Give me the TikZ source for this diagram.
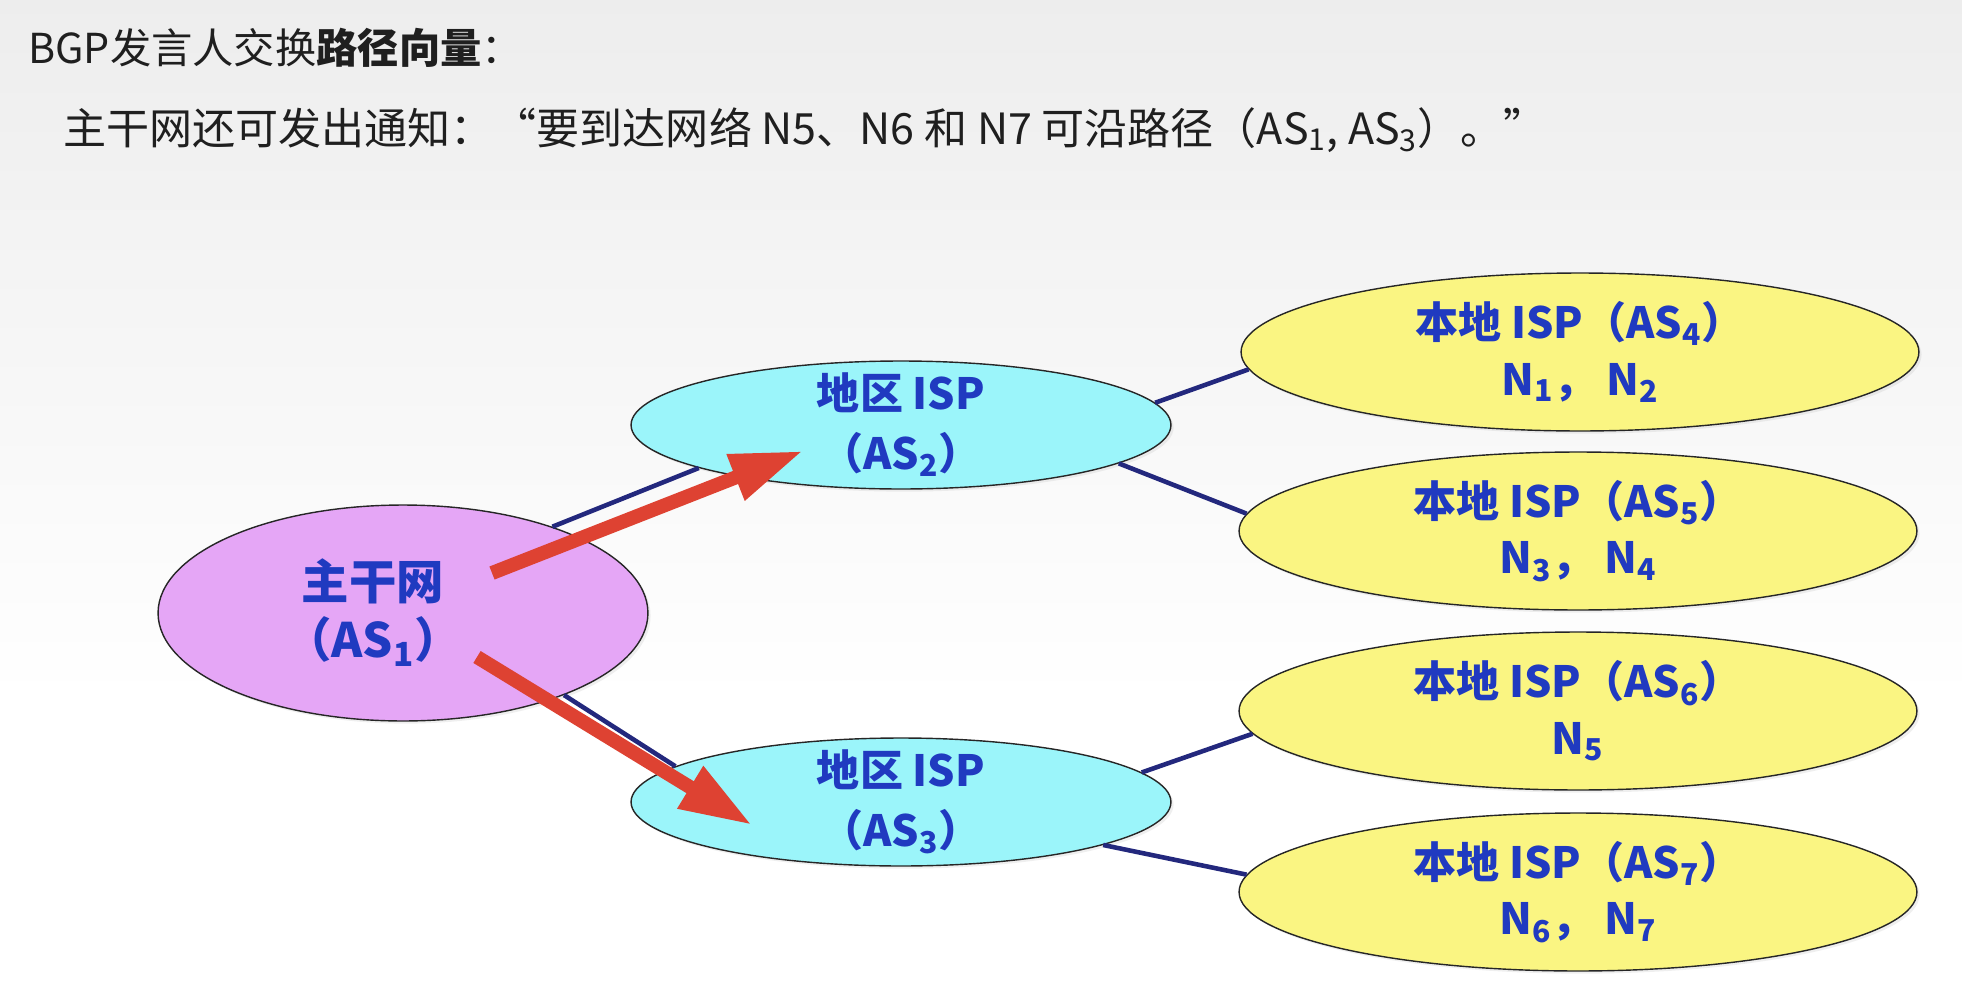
\documentclass[tikz,border=0pt]{standalone}
\usepackage{fontspec}
\setmainfont{Noto Sans CJK SC}
\usetikzlibrary{shapes.geometric,arrows.meta,shadows}
\definecolor{asblue}{RGB}{32,58,192}
\definecolor{linknavy}{RGB}{35,40,125}
\definecolor{arrowred}{RGB}{222,66,50}
\definecolor{bbfill}{RGB}{229,166,246}
\definecolor{rgfill}{RGB}{155,245,250}
\definecolor{lcfill}{RGB}{250,245,130}
\tikzset{
  asnode/.style={ellipse, draw=black!85, line width=0.8pt, inner sep=-6mm,
    text=asblue, align=center, font=\bfseries\fontsize{24.5}{34}\selectfont,
    drop shadow={shadow xshift=1.5pt, shadow yshift=-1.5pt, opacity=0.12}},
  bbnet/.style={asnode, fill=bbfill, minimum width=9.8cm, minimum height=4.32cm},
  bbtext/.style={xshift=-0.6cm, inner sep=0pt, text=asblue, align=center,
    font=\bfseries\fontsize{27}{33}\selectfont},
  regionnet/.style={asnode, fill=rgfill, minimum width=10.8cm, minimum height=2.56cm},
  localnet/.style={asnode, fill=lcfill, minimum width=13.56cm, minimum height=3.16cm,
    font=\bfseries\fontsize{24.5}{32}\selectfont},
  aslink/.style={draw=linknavy, line width=2.6pt},
  advert/.style={draw=arrowred, line width=0.28cm, -{Triangle[length=1.45cm, width=0.92cm]}},
  heading/.style={anchor=west, inner sep=0pt, text=black!88, font=\fontsize{23.5}{28}\selectfont},
}
\begin{document}
\begin{tikzpicture}[x=0.02cm, y=-0.02cm]
  \useasboundingbox (0,0) rectangle (1962,994);
  \fill[white] (0,0) rectangle (1962,994);
  \shade[top color=black!7, bottom color=white] (0,0) rectangle (1962,700);

  % headings
  \node[heading] (title) at (28,48) {BGP发言人交换\textbf{路径向量}：};
  \node[heading, font=\fontsize{24.5}{28}\selectfont] (note) at (63,130) {主干网还可发出通知：“要到达网络 N5、N6 和 N7 可沿路径（AS\textsubscript{1}, AS\textsubscript{3}）。”};

  % autonomous systems
  \node[bbnet, label={[bbtext]center:主干网\\（AS\textsubscript{1}）}] (as1) at (403,613) {};
  \node[regionnet] (as2) at (901,425) {地区 ISP\\（AS\textsubscript{2}）};
  \node[regionnet] (as3) at (901,802) {地区 ISP\\（AS\textsubscript{3}）};
  \node[localnet] (as4) at (1580,352) {本地 ISP（AS\textsubscript{4}）\\N\textsubscript{1}， N\textsubscript{2}};
  \node[localnet] (as5) at (1578,531) {本地 ISP（AS\textsubscript{5}）\\N\textsubscript{3}， N\textsubscript{4}};
  \node[localnet] (as6) at (1578,711) {本地 ISP（AS\textsubscript{6}）\\N\textsubscript{5}};
  \node[localnet] (as7) at (1578,892) {本地 ISP（AS\textsubscript{7}）\\N\textsubscript{6}， N\textsubscript{7}};

  % links
  \draw[aslink] (as1.30) -- (as2.192);
  \draw[aslink] (as1.-27) -- (as3.171);
  \draw[aslink] (as2.5) -- (as4.183);
  \draw[aslink] (as2.-10) -- (as5.177);
  \draw[aslink] (as3.7) -- (as6.184);
  \draw[aslink] (as3.-12) -- (as7.177);

  % path vector announcements
  \coordinate (up0) at (492,573);
  \coordinate (up1) at (803,451);
  \coordinate (dn0) at (477,657);
  \coordinate (dn1) at (752,825);
  \draw[advert] (up0) -- (up1);
  \draw[advert] (dn0) -- (dn1);
\end{tikzpicture}
\end{document}
